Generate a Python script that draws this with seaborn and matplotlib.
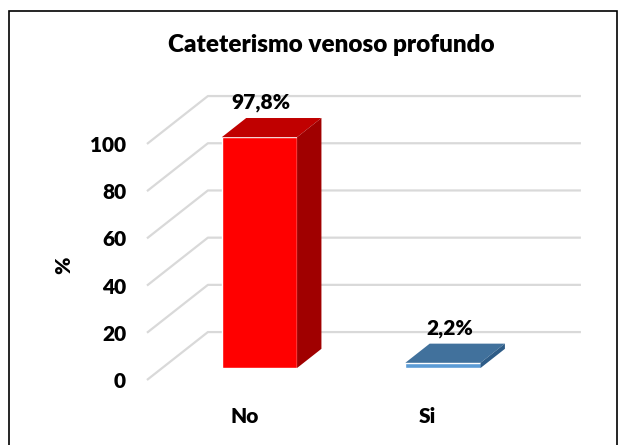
import matplotlib
matplotlib.use("Agg")
import matplotlib.pyplot as plt
import matplotlib.patches as mpatches
import seaborn as sns

# data
categories = ["No", "Si"]
values = [97.8, 2.2]
value_labels = ["97,8%", "2,2%"]
y_ticks = [0, 20, 40, 60, 80, 100]

front_colors = ["#FF0000", "#5B9BD5"]
top_colors = ["#C00000", "#41719C"]
side_colors = ["#A00000", "#2E5C87"]

# oblique projection (depth 0 = bar front plane)
KX, KY = 0.332, 20.3
FRONT, BACK, BAR_D = -0.25, 0.75, 0.4
FW = "heavy"

sns.set_theme(style="white")
plt.rcParams["font.family"] = ["Lato", "DejaVu Sans"]

fig = plt.figure(figsize=(6.21, 4.45), dpi=100)
ax = fig.add_axes([140 / 621, 45 / 445, 460 / 621, 340 / 445])

# walls / gridlines
x0 = -0.613
for g in y_ticks:
    xs = [x0, x0 + (BACK - FRONT) * KX, 1.752]
    ys = [g + FRONT * KY, g + BACK * KY, g + BACK * KY]
    ax.plot(xs, ys, color="#d9d9d9", lw=1.6, zorder=0, solid_capstyle="butt")

sns.barplot(x=categories, y=values, hue=categories, palette=front_colors,
            width=0.41, legend=False, ax=ax, zorder=3, saturation=1)

for i, p in enumerate(ax.patches):
    l, w, h = p.get_x(), p.get_width(), p.get_height()
    dx, dy = BAR_D * KX, BAR_D * KY
    # top face
    ax.fill([l, l + w, l + w + dx, l + dx], [h, h, h + dy, h + dy],
            color=top_colors[i], zorder=3, lw=0)
    # side face
    ax.fill([l + w, l + w + dx, l + w + dx, l + w], [0, dy, h + dy, h],
            color=side_colors[i], zorder=3, lw=0)
    ax.text(l + w / 2 + 0.01 + 0.03 * i, h + dy + 2.5, value_labels[i], ha="center",
            va="bottom", fontsize=15, fontweight=FW, color="black")

ax.set_xlim(-0.651, 1.856)
ax.set_ylim(-13.56, 130.5)
ax.set_xticks([i + FRONT * KX for i in range(len(categories))], labels=categories)
ax.set_yticks([g + FRONT * KY for g in y_ticks], labels=[str(g) for g in y_ticks])
ax.tick_params(axis="both", length=0, labelsize=15, labelcolor="black")
ax.tick_params(axis="y", pad=10)
ax.tick_params(axis="x", pad=5)
for lab in ax.get_xticklabels() + ax.get_yticklabels():
    lab.set_fontweight(FW)
ax.set_xlabel("")
ax.set_ylabel("%", fontsize=15, fontweight=FW, color="black")
ax.yaxis.set_label_coords(-0.145, 0.397)
sns.despine(ax=ax, left=True, bottom=True)

fig.text(331 / 621, 1 - 45 / 445, "Cateterismo venoso profundo", ha="center",
         va="center", fontsize=17.5, fontweight=FW, color="black")

# chart frame
fig.patches.append(mpatches.Rectangle((9 / 621, -0.05), 608 / 621, 1 - 11 / 445 + 0.05,
                                      transform=fig.transFigure, fill=False,
                                      edgecolor="black", lw=1.2))

fig.savefig("out.png", dpi=100)
